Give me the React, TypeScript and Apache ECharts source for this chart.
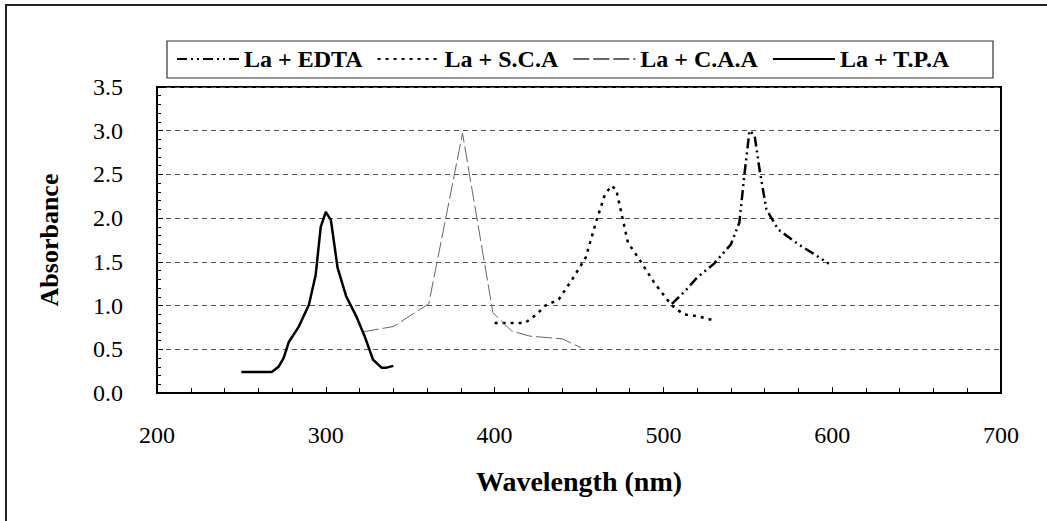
import React, { useEffect, useRef } from "react";
import * as echarts from "echarts";

const seriesNames = ["La + EDTA", "La + S.C.A", "La + C.A.A", "La + T.P.A"];

const edta: [number, number][] = [
  [505, 1.02], [512, 1.15], [520, 1.32], [530, 1.48], [540, 1.7], [545, 1.95],
  [548, 2.5], [551, 3.0], [554, 2.95], [557, 2.55], [561, 2.1], [568, 1.87],
  [580, 1.7], [590, 1.58], [598, 1.48],
];
const sca: [number, number][] = [
  [400, 0.8], [410, 0.8], [418, 0.8], [425, 0.9], [430, 1.0], [438, 1.07],
  [446, 1.3], [454, 1.55], [460, 1.95], [465, 2.25], [469, 2.37], [472, 2.33],
  [476, 1.98], [479, 1.72], [485, 1.55], [495, 1.25], [505, 1.0], [512, 0.9],
  [520, 0.88], [530, 0.83],
];
const caa: [number, number][] = [
  [322, 0.7], [340, 0.76], [361, 1.02], [381, 2.97], [399, 0.92], [410, 0.71],
  [421, 0.65], [440, 0.62], [451, 0.52],
];
const tpa: [number, number][] = [
  [250, 0.24], [268, 0.24], [272, 0.3], [275, 0.4], [278, 0.58], [284, 0.76],
  [290, 1.01], [294, 1.35], [297, 1.9], [300, 2.07], [303, 1.98], [307, 1.43],
  [312, 1.11], [318, 0.88], [323, 0.65], [328, 0.38], [333, 0.29], [336, 0.29],
  [340, 0.31],
];

const xTicks = { min: 200, max: 700, interval: 100 };
const yTicks = { min: 0, max: 3.5, interval: 0.5 };

const FONT = "'Liberation Serif', 'Times New Roman', serif";

export default function App() {
  const ref = useRef<HTMLDivElement>(null);
  useEffect(() => {
    if (!ref.current) return;
    const chart = echarts.init(ref.current, undefined, { renderer: "svg" });
    chart.setOption({
      animation: false,
      backgroundColor: "#fff",
      graphic: [
        {
          type: "polyline",
          shape: { points: [[6, 521], [6, 5], [1047, 5]] },
          style: { stroke: "#222", lineWidth: 2, fill: "none" },
        },
        {
          type: "rect",
          shape: { x: 167, y: 41, width: 826, height: 37 },
          style: { stroke: "#333", lineWidth: 1.2, fill: "none" },
        },
      ],
      legend: {
        left: 176,
        top: 47,
        padding: 0,
        itemWidth: 62,
        itemHeight: 12,
        itemGap: 14,
        data: seriesNames,
        itemStyle: { opacity: 0 },
        textStyle: { fontFamily: FONT, fontWeight: "bold", fontSize: 24, color: "#000" },
      },
      grid: {
        left: 157,
        right: 46,
        top: 87,
        bottom: 128,
        show: true,
        borderColor: "#000",
        borderWidth: 2,
      },
      xAxis: {
        type: "value",
        min: xTicks.min,
        max: xTicks.max,
        interval: xTicks.interval,
        name: "Wavelength (nm)",
        nameLocation: "middle",
        nameGap: 74,
        nameTextStyle: { fontFamily: FONT, fontWeight: "bold", fontSize: 28, color: "#000" },
        axisLine: { lineStyle: { color: "#000", width: 2 } },
        axisTick: { inside: true, length: 6, lineStyle: { color: "#000" } },
        minorTick: { show: true, splitNumber: 5, length: 5, lineStyle: { color: "#000" } },
        splitLine: { show: false },
        axisLabel: { margin: 30, fontFamily: FONT, fontSize: 24, color: "#000" },
      },
      yAxis: {
        type: "value",
        min: yTicks.min,
        max: yTicks.max,
        interval: yTicks.interval,
        name: "Absorbance",
        nameLocation: "middle",
        nameGap: 95,
        nameRotate: 90,
        nameTextStyle: { fontFamily: FONT, fontWeight: "bold", fontSize: 26, color: "#000" },
        axisLine: { show: true, lineStyle: { color: "#000", width: 2 } },
        axisTick: { inside: true, length: 6, lineStyle: { color: "#000" } },
        minorTick: { show: true, splitNumber: 5, length: 4, lineStyle: { color: "#000" } },
        splitLine: { show: true, lineStyle: { color: "#555", type: [5, 4], width: 1 } },
        axisLabel: {
          margin: 34,
          fontFamily: FONT,
          fontSize: 24,
          color: "#000",
          formatter: (v: number) => v.toFixed(1),
        },
      },
      series: [
        {
          name: seriesNames[0],
          type: "line",
          data: edta,
          symbol: "none",
          lineStyle: { color: "#000", width: 2.5, type: [10, 4, 2, 4, 2, 4] },
          itemStyle: { color: "#000" },
        },
        {
          name: seriesNames[1],
          type: "line",
          data: sca,
          symbol: "none",
          lineStyle: { color: "#000", width: 2.5, type: [3, 5] },
          itemStyle: { color: "#000" },
        },
        {
          name: seriesNames[2],
          type: "line",
          data: caa,
          symbol: "none",
          lineStyle: { color: "#666", width: 1, type: [16, 4] },
          itemStyle: { color: "#666" },
        },
        {
          name: seriesNames[3],
          type: "line",
          data: tpa,
          symbol: "none",
          lineStyle: { color: "#000", width: 2.5, type: "solid" },
          itemStyle: { color: "#000" },
        },
      ],
    });
    return () => chart.dispose();
  }, []);
  return (
    <div
      ref={ref}
      style={{ position: "absolute", left: 0, top: 0, width: 1047, height: 521, background: "#fff" }}
    />
  );
}
